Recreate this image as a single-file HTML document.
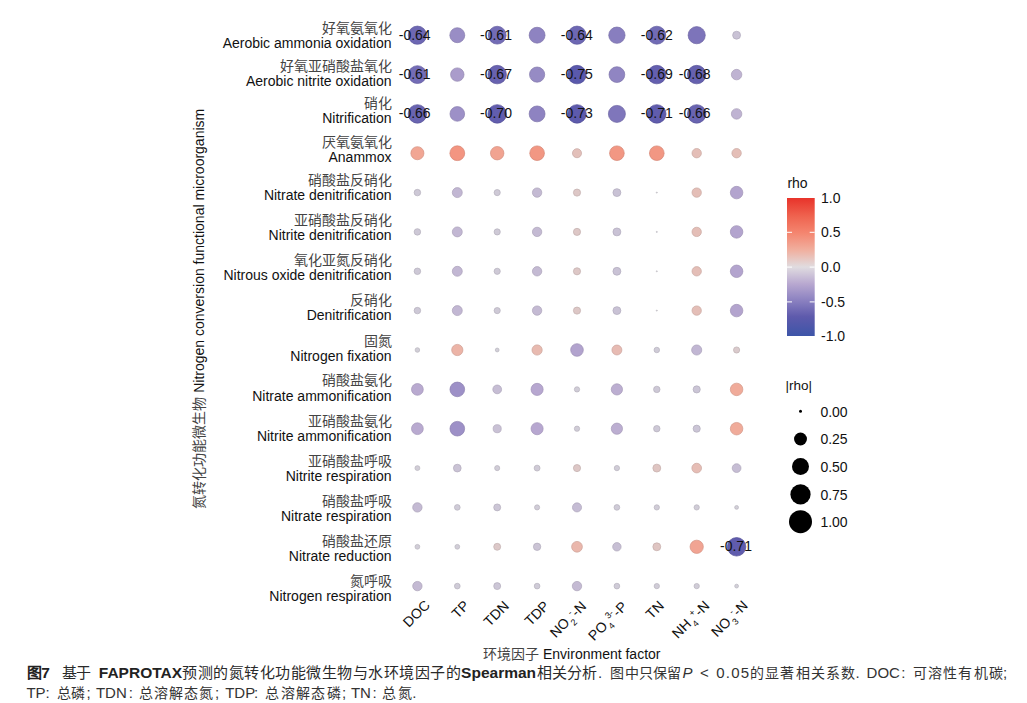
<!DOCTYPE html>
<html lang="zh-CN"><head><meta charset="utf-8">
<style>
html,body{margin:0;padding:0;background:#fff;}
body{width:1027px;height:703px;overflow:hidden;position:relative;font-family:"Liberation Sans",sans-serif;}
svg{position:absolute;left:0;top:0;}
.lab{font-family:"Liberation Sans",sans-serif;font-size:14px;text-anchor:middle;fill:#111;}
.zh{font-family:"Liberation Sans",sans-serif;font-size:14px;font-weight:300;text-anchor:end;fill:#444;}
.en{font-family:"Liberation Sans",sans-serif;font-size:14px;text-anchor:end;fill:#111;}
.xl{font-family:"Liberation Sans",sans-serif;font-size:14px;text-anchor:end;fill:#111;}
.xs{font-size:9px;}
.leg{font-family:"Liberation Sans",sans-serif;font-size:14px;fill:#111;}
.ch{font-family:"Liberation Sans",sans-serif;font-size:14px;}
.ch.hh,.ch.hb{font-size:15px;}
.cl{font-family:"Liberation Sans",sans-serif;font-size:15px;}
.b{font-weight:bold;fill:#222;font-size:15.5px;}
.hb{font-weight:bold;fill:#222;}
.hh{font-weight:normal;fill:#2a2a2a;}
.s{font-weight:300;fill:#333;}
.cl.s{font-weight:normal;fill:#333;}
.it{font-style:italic;}
</style></head><body>
<svg width="1027" height="703" viewBox="0 0 1027 703">
<defs><linearGradient id="cb" x1="0" y1="0" x2="0" y2="1"><stop offset="0.0000" stop-color="#e8332a"/><stop offset="0.1350" stop-color="#ef6450"/><stop offset="0.2550" stop-color="#f48670"/><stop offset="0.3800" stop-color="#f0b0a0"/><stop offset="0.5000" stop-color="#e0dce0"/><stop offset="0.6225" stop-color="#b8a8d0"/><stop offset="0.7450" stop-color="#8a80c0"/><stop offset="0.8600" stop-color="#5e5aac"/><stop offset="1.0000" stop-color="#3d55a8"/></linearGradient></defs>
<circle cx="417.4" cy="35.2" r="9.11" fill="#6d67b3" stroke="#5f5a9d" stroke-width="0.7"/><circle cx="457.3" cy="35.2" r="7.48" fill="#998dc5" stroke="#867cad" stroke-width="0.7"/><circle cx="497.2" cy="35.2" r="8.92" fill="#736cb6" stroke="#655fa0" stroke-width="0.7"/><circle cx="537.1" cy="35.2" r="7.94" fill="#8e83c1" stroke="#7c73a9" stroke-width="0.7"/><circle cx="577.0" cy="35.2" r="9.11" fill="#6d67b3" stroke="#5f5a9d" stroke-width="0.7"/><circle cx="616.9" cy="35.2" r="8.16" fill="#887ebf" stroke="#776ea8" stroke-width="0.7"/><circle cx="656.8" cy="35.2" r="8.98" fill="#716bb5" stroke="#635e9f" stroke-width="0.7"/><circle cx="696.7" cy="35.2" r="8.58" fill="#7d74ba" stroke="#6e66a3" stroke-width="0.7"/><circle cx="736.6" cy="35.2" r="3.96" fill="#c9c2d5" stroke="#b0aabb" stroke-width="0.7"/><circle cx="417.4" cy="74.6" r="8.92" fill="#736cb6" stroke="#655fa0" stroke-width="0.7"/><circle cx="457.3" cy="74.6" r="6.72" fill="#aa9ccb" stroke="#9589b2" stroke-width="0.7"/><circle cx="497.2" cy="74.6" r="9.25" fill="#6862b0" stroke="#5b569a" stroke-width="0.7"/><circle cx="537.1" cy="74.6" r="7.60" fill="#968bc4" stroke="#847aac" stroke-width="0.7"/><circle cx="577.0" cy="74.6" r="9.25" fill="#5a59ac" stroke="#4f4e97" stroke-width="0.7"/><circle cx="616.9" cy="74.6" r="7.87" fill="#9085c2" stroke="#7e75aa" stroke-width="0.7"/><circle cx="656.8" cy="74.6" r="9.25" fill="#645faf" stroke="#58539a" stroke-width="0.7"/><circle cx="696.7" cy="74.6" r="9.25" fill="#6661af" stroke="#59559a" stroke-width="0.7"/><circle cx="736.6" cy="74.6" r="5.25" fill="#bfb3d2" stroke="#a89db8" stroke-width="0.7"/><circle cx="417.4" cy="113.9" r="9.24" fill="#6964b1" stroke="#5c589b" stroke-width="0.7"/><circle cx="457.3" cy="113.9" r="7.32" fill="#9d90c7" stroke="#8a7eaf" stroke-width="0.7"/><circle cx="497.2" cy="113.9" r="9.25" fill="#625dae" stroke="#565199" stroke-width="0.7"/><circle cx="537.1" cy="113.9" r="7.94" fill="#8e83c1" stroke="#7c73a9" stroke-width="0.7"/><circle cx="577.0" cy="113.9" r="9.25" fill="#5d5aac" stroke="#514f97" stroke-width="0.7"/><circle cx="616.9" cy="113.9" r="8.51" fill="#7f76bb" stroke="#6f67a4" stroke-width="0.7"/><circle cx="656.8" cy="113.9" r="9.25" fill="#605cad" stroke="#545098" stroke-width="0.7"/><circle cx="696.7" cy="113.9" r="9.24" fill="#6964b1" stroke="#5c589b" stroke-width="0.7"/><circle cx="736.6" cy="113.9" r="5.25" fill="#bfb3d2" stroke="#a89db8" stroke-width="0.7"/><circle cx="417.4" cy="153.2" r="6.54" fill="#f1a694" stroke="#d49282" stroke-width="0.7"/><circle cx="457.3" cy="153.2" r="7.40" fill="#f39581" stroke="#d58371" stroke-width="0.7"/><circle cx="497.2" cy="153.2" r="6.72" fill="#f1a391" stroke="#d48f7f" stroke-width="0.7"/><circle cx="537.1" cy="153.2" r="7.32" fill="#f29783" stroke="#d48473" stroke-width="0.7"/><circle cx="577.0" cy="153.2" r="4.54" fill="#e3c0ba" stroke="#c7a8a3" stroke-width="0.7"/><circle cx="616.9" cy="153.2" r="7.32" fill="#f29783" stroke="#d48473" stroke-width="0.7"/><circle cx="656.8" cy="153.2" r="7.32" fill="#f29783" stroke="#d48473" stroke-width="0.7"/><circle cx="696.7" cy="153.2" r="4.69" fill="#e4beb7" stroke="#c8a7a1" stroke-width="0.7"/><circle cx="736.6" cy="153.2" r="4.69" fill="#e4beb7" stroke="#c8a7a1" stroke-width="0.7"/><circle cx="417.4" cy="192.6" r="3.26" fill="#cdc8d6" stroke="#b4b0bc" stroke-width="0.7"/><circle cx="457.3" cy="192.6" r="4.98" fill="#c2b7d3" stroke="#aaa1b9" stroke-width="0.7"/><circle cx="497.2" cy="192.6" r="3.10" fill="#cec9d6" stroke="#b5b0bc" stroke-width="0.7"/><circle cx="537.1" cy="192.6" r="4.69" fill="#c4bad3" stroke="#aca3b9" stroke-width="0.7"/><circle cx="577.0" cy="192.6" r="3.58" fill="#ddc7c6" stroke="#c2afae" stroke-width="0.7"/><circle cx="616.9" cy="192.6" r="3.96" fill="#c9c2d5" stroke="#b0aabb" stroke-width="0.7"/><circle cx="656.8" cy="192.6" r="0.55" fill="#d4d2d8" stroke="#bab8be" stroke-width="0.7"/><circle cx="696.7" cy="192.6" r="4.69" fill="#e4beb7" stroke="#c8a7a1" stroke-width="0.7"/><circle cx="736.6" cy="192.6" r="6.25" fill="#b3a4ce" stroke="#9d90b5" stroke-width="0.7"/><circle cx="417.4" cy="231.9" r="3.26" fill="#cdc8d6" stroke="#b4b0bc" stroke-width="0.7"/><circle cx="457.3" cy="231.9" r="4.98" fill="#c2b7d3" stroke="#aaa1b9" stroke-width="0.7"/><circle cx="497.2" cy="231.9" r="3.10" fill="#cec9d6" stroke="#b5b0bc" stroke-width="0.7"/><circle cx="537.1" cy="231.9" r="4.69" fill="#c4bad3" stroke="#aca3b9" stroke-width="0.7"/><circle cx="577.0" cy="231.9" r="3.58" fill="#ddc7c6" stroke="#c2afae" stroke-width="0.7"/><circle cx="616.9" cy="231.9" r="3.96" fill="#c9c2d5" stroke="#b0aabb" stroke-width="0.7"/><circle cx="656.8" cy="231.9" r="0.55" fill="#d4d2d8" stroke="#bab8be" stroke-width="0.7"/><circle cx="696.7" cy="231.9" r="4.69" fill="#e4beb7" stroke="#c8a7a1" stroke-width="0.7"/><circle cx="736.6" cy="231.9" r="6.25" fill="#b3a4ce" stroke="#9d90b5" stroke-width="0.7"/><circle cx="417.4" cy="271.3" r="3.26" fill="#cdc8d6" stroke="#b4b0bc" stroke-width="0.7"/><circle cx="457.3" cy="271.3" r="4.98" fill="#c2b7d3" stroke="#aaa1b9" stroke-width="0.7"/><circle cx="497.2" cy="271.3" r="3.10" fill="#cec9d6" stroke="#b5b0bc" stroke-width="0.7"/><circle cx="537.1" cy="271.3" r="4.69" fill="#c4bad3" stroke="#aca3b9" stroke-width="0.7"/><circle cx="577.0" cy="271.3" r="3.58" fill="#ddc7c6" stroke="#c2afae" stroke-width="0.7"/><circle cx="616.9" cy="271.3" r="3.96" fill="#c9c2d5" stroke="#b0aabb" stroke-width="0.7"/><circle cx="656.8" cy="271.3" r="0.55" fill="#d4d2d8" stroke="#bab8be" stroke-width="0.7"/><circle cx="696.7" cy="271.3" r="4.69" fill="#e4beb7" stroke="#c8a7a1" stroke-width="0.7"/><circle cx="736.6" cy="271.3" r="6.25" fill="#b3a4ce" stroke="#9d90b5" stroke-width="0.7"/><circle cx="417.4" cy="310.6" r="3.26" fill="#cdc8d6" stroke="#b4b0bc" stroke-width="0.7"/><circle cx="457.3" cy="310.6" r="4.98" fill="#c2b7d3" stroke="#aaa1b9" stroke-width="0.7"/><circle cx="497.2" cy="310.6" r="3.10" fill="#cec9d6" stroke="#b5b0bc" stroke-width="0.7"/><circle cx="537.1" cy="310.6" r="4.69" fill="#c4bad3" stroke="#aca3b9" stroke-width="0.7"/><circle cx="577.0" cy="310.6" r="3.58" fill="#ddc7c6" stroke="#c2afae" stroke-width="0.7"/><circle cx="616.9" cy="310.6" r="3.96" fill="#c9c2d5" stroke="#b0aabb" stroke-width="0.7"/><circle cx="656.8" cy="310.6" r="0.55" fill="#d4d2d8" stroke="#bab8be" stroke-width="0.7"/><circle cx="696.7" cy="310.6" r="4.69" fill="#e4beb7" stroke="#c8a7a1" stroke-width="0.7"/><circle cx="736.6" cy="310.6" r="6.25" fill="#b3a4ce" stroke="#9d90b5" stroke-width="0.7"/><circle cx="417.4" cy="350.0" r="2.30" fill="#d1ced7" stroke="#b7b5bd" stroke-width="0.7"/><circle cx="457.3" cy="350.0" r="5.62" fill="#ecb4a7" stroke="#cf9e92" stroke-width="0.7"/><circle cx="497.2" cy="350.0" r="1.91" fill="#d2cfd8" stroke="#b8b6be" stroke-width="0.7"/><circle cx="537.1" cy="350.0" r="5.11" fill="#e8bab0" stroke="#cca39a" stroke-width="0.7"/><circle cx="577.0" cy="350.0" r="6.30" fill="#b2a3ce" stroke="#9c8fb5" stroke-width="0.7"/><circle cx="616.9" cy="350.0" r="4.98" fill="#e7bbb3" stroke="#cba49d" stroke-width="0.7"/><circle cx="656.8" cy="350.0" r="2.76" fill="#cfcbd7" stroke="#b6b2bd" stroke-width="0.7"/><circle cx="696.7" cy="350.0" r="5.06" fill="#c1b6d3" stroke="#a9a0b9" stroke-width="0.7"/><circle cx="736.6" cy="350.0" r="3.10" fill="#dacacc" stroke="#bfb1b3" stroke-width="0.7"/><circle cx="417.4" cy="389.4" r="5.89" fill="#b9aad0" stroke="#a295b7" stroke-width="0.7"/><circle cx="457.3" cy="389.4" r="7.32" fill="#9d90c7" stroke="#8a7eaf" stroke-width="0.7"/><circle cx="497.2" cy="389.4" r="4.38" fill="#c6bdd4" stroke="#aea6ba" stroke-width="0.7"/><circle cx="537.1" cy="389.4" r="6.05" fill="#b7a7d0" stroke="#a192b7" stroke-width="0.7"/><circle cx="577.0" cy="389.4" r="2.65" fill="#d0ccd7" stroke="#b7b3bd" stroke-width="0.7"/><circle cx="616.9" cy="389.4" r="5.62" fill="#bcaed1" stroke="#a599b7" stroke-width="0.7"/><circle cx="656.8" cy="389.4" r="3.22" fill="#cdc8d6" stroke="#b4b0bc" stroke-width="0.7"/><circle cx="696.7" cy="389.4" r="3.58" fill="#cbc5d6" stroke="#b2adbc" stroke-width="0.7"/><circle cx="736.6" cy="389.4" r="6.25" fill="#f0ab9a" stroke="#d39687" stroke-width="0.7"/><circle cx="417.4" cy="428.7" r="5.89" fill="#b9aad0" stroke="#a295b7" stroke-width="0.7"/><circle cx="457.3" cy="428.7" r="7.32" fill="#9d90c7" stroke="#8a7eaf" stroke-width="0.7"/><circle cx="497.2" cy="428.7" r="4.05" fill="#c9c1d5" stroke="#b0a9bb" stroke-width="0.7"/><circle cx="537.1" cy="428.7" r="6.05" fill="#b7a7d0" stroke="#a192b7" stroke-width="0.7"/><circle cx="577.0" cy="428.7" r="2.65" fill="#d0ccd7" stroke="#b7b3bd" stroke-width="0.7"/><circle cx="616.9" cy="428.7" r="5.62" fill="#bcaed1" stroke="#a599b7" stroke-width="0.7"/><circle cx="656.8" cy="428.7" r="3.22" fill="#cdc8d6" stroke="#b4b0bc" stroke-width="0.7"/><circle cx="696.7" cy="428.7" r="3.58" fill="#cbc5d6" stroke="#b2adbc" stroke-width="0.7"/><circle cx="736.6" cy="428.7" r="6.25" fill="#f0ab9a" stroke="#d39687" stroke-width="0.7"/><circle cx="417.4" cy="468.1" r="2.47" fill="#d1cdd7" stroke="#b7b4bd" stroke-width="0.7"/><circle cx="457.3" cy="468.1" r="3.87" fill="#cac3d5" stroke="#b1abbb" stroke-width="0.7"/><circle cx="497.2" cy="468.1" r="2.56" fill="#d0ccd7" stroke="#b7b3bd" stroke-width="0.7"/><circle cx="537.1" cy="468.1" r="2.95" fill="#cfcad6" stroke="#b6b1bc" stroke-width="0.7"/><circle cx="577.0" cy="468.1" r="3.58" fill="#ddc7c6" stroke="#c2afae" stroke-width="0.7"/><circle cx="616.9" cy="468.1" r="2.65" fill="#d0ccd7" stroke="#b7b3bd" stroke-width="0.7"/><circle cx="656.8" cy="468.1" r="3.96" fill="#dfc5c2" stroke="#c4adaa" stroke-width="0.7"/><circle cx="696.7" cy="468.1" r="4.84" fill="#e6bdb5" stroke="#caa69f" stroke-width="0.7"/><circle cx="736.6" cy="468.1" r="4.38" fill="#c6bdd4" stroke="#aea6ba" stroke-width="0.7"/><circle cx="417.4" cy="507.4" r="4.69" fill="#c4bad3" stroke="#aca3b9" stroke-width="0.7"/><circle cx="457.3" cy="507.4" r="2.85" fill="#cfcbd7" stroke="#b6b2bd" stroke-width="0.7"/><circle cx="497.2" cy="507.4" r="3.48" fill="#ccc6d6" stroke="#b3aebc" stroke-width="0.7"/><circle cx="537.1" cy="507.4" r="2.56" fill="#d0ccd7" stroke="#b7b3bd" stroke-width="0.7"/><circle cx="577.0" cy="507.4" r="4.54" fill="#c5bcd4" stroke="#ada5ba" stroke-width="0.7"/><circle cx="616.9" cy="507.4" r="2.85" fill="#cfcbd7" stroke="#b6b2bd" stroke-width="0.7"/><circle cx="656.8" cy="507.4" r="2.65" fill="#d0ccd7" stroke="#b7b3bd" stroke-width="0.7"/><circle cx="696.7" cy="507.4" r="2.65" fill="#d0ccd7" stroke="#b7b3bd" stroke-width="0.7"/><circle cx="736.6" cy="507.4" r="1.91" fill="#d2cfd8" stroke="#b8b6be" stroke-width="0.7"/><circle cx="417.4" cy="546.8" r="2.40" fill="#d1cdd7" stroke="#b7b4bd" stroke-width="0.7"/><circle cx="457.3" cy="546.8" r="2.40" fill="#d1cdd7" stroke="#b7b4bd" stroke-width="0.7"/><circle cx="497.2" cy="546.8" r="3.48" fill="#dcc8c8" stroke="#c1b0b0" stroke-width="0.7"/><circle cx="537.1" cy="546.8" r="3.68" fill="#cbc4d5" stroke="#b2acbb" stroke-width="0.7"/><circle cx="577.0" cy="546.8" r="5.37" fill="#eab7ac" stroke="#cda197" stroke-width="0.7"/><circle cx="616.9" cy="546.8" r="4.22" fill="#c7bfd4" stroke="#afa8ba" stroke-width="0.7"/><circle cx="656.8" cy="546.8" r="3.96" fill="#dfc5c2" stroke="#c4adaa" stroke-width="0.7"/><circle cx="696.7" cy="546.8" r="6.63" fill="#f1a493" stroke="#d49081" stroke-width="0.7"/><circle cx="736.6" cy="546.8" r="9.25" fill="#605cad" stroke="#545098" stroke-width="0.7"/><circle cx="417.4" cy="586.1" r="4.69" fill="#c4bad3" stroke="#aca3b9" stroke-width="0.7"/><circle cx="457.3" cy="586.1" r="2.85" fill="#cfcbd7" stroke="#b6b2bd" stroke-width="0.7"/><circle cx="497.2" cy="586.1" r="3.48" fill="#ccc6d6" stroke="#b3aebc" stroke-width="0.7"/><circle cx="537.1" cy="586.1" r="2.85" fill="#cfcbd7" stroke="#b6b2bd" stroke-width="0.7"/><circle cx="577.0" cy="586.1" r="4.69" fill="#c4bad3" stroke="#aca3b9" stroke-width="0.7"/><circle cx="616.9" cy="586.1" r="2.85" fill="#cfcbd7" stroke="#b6b2bd" stroke-width="0.7"/><circle cx="656.8" cy="586.1" r="2.65" fill="#d0ccd7" stroke="#b7b3bd" stroke-width="0.7"/><circle cx="696.7" cy="586.1" r="2.65" fill="#d0ccd7" stroke="#b7b3bd" stroke-width="0.7"/><circle cx="736.6" cy="586.1" r="1.91" fill="#d2cfd8" stroke="#b8b6be" stroke-width="0.7"/>
<text x="414.7" y="39.6" class="lab">-0.64</text><text x="496.0" y="39.6" class="lab">-0.61</text><text x="576.8" y="39.6" class="lab">-0.64</text><text x="656.8" y="39.6" class="lab">-0.62</text><text x="414.7" y="79.0" class="lab">-0.61</text><text x="496.0" y="79.0" class="lab">-0.67</text><text x="576.8" y="79.0" class="lab">-0.75</text><text x="656.8" y="79.0" class="lab">-0.69</text><text x="694.7" y="79.0" class="lab">-0.68</text><text x="414.7" y="118.3" class="lab">-0.66</text><text x="496.0" y="118.3" class="lab">-0.70</text><text x="576.8" y="118.3" class="lab">-0.73</text><text x="656.8" y="118.3" class="lab">-0.71</text><text x="694.7" y="118.3" class="lab">-0.66</text><text x="736.0" y="551.1" class="lab">-0.71</text>
<text x="391.5" y="33.1" class="zh">好氧氨氧化</text><text x="391.5" y="48.3" class="en">Aerobic ammonia oxidation</text><text x="391.5" y="70.6" class="zh">好氧亚硝酸盐氧化</text><text x="391.5" y="85.8" class="en">Aerobic nitrite oxidation</text><text x="391.5" y="108.2" class="zh">硝化</text><text x="391.5" y="123.4" class="en">Nitrification</text><text x="391.5" y="146.6" class="zh">厌氧氨氧化</text><text x="391.5" y="161.8" class="en">Anammox</text><text x="391.5" y="185.2" class="zh">硝酸盐反硝化</text><text x="391.5" y="200.4" class="en">Nitrate denitrification</text><text x="391.5" y="225.1" class="zh">亚硝酸盐反硝化</text><text x="391.5" y="240.3" class="en">Nitrite denitrification</text><text x="391.5" y="264.9" class="zh">氧化亚氮反硝化</text><text x="391.5" y="280.1" class="en">Nitrous oxide denitrification</text><text x="391.5" y="304.8" class="zh">反硝化</text><text x="391.5" y="320.0" class="en">Denitrification</text><text x="391.5" y="346.0" class="zh">固氮</text><text x="391.5" y="361.2" class="en">Nitrogen fixation</text><text x="391.5" y="385.3" class="zh">硝酸盐氨化</text><text x="391.5" y="400.5" class="en">Nitrate ammonification</text><text x="391.5" y="425.7" class="zh">亚硝酸盐氨化</text><text x="391.5" y="440.9" class="en">Nitrite ammonification</text><text x="391.5" y="465.5" class="zh">亚硝酸盐呼吸</text><text x="391.5" y="480.7" class="en">Nitrite respiration</text><text x="391.5" y="505.5" class="zh">硝酸盐呼吸</text><text x="391.5" y="520.7" class="en">Nitrate respiration</text><text x="391.5" y="545.6" class="zh">硝酸盐还原</text><text x="391.5" y="560.8" class="en">Nitrate reduction</text><text x="391.5" y="585.6" class="zh">氮呼吸</text><text x="391.5" y="600.8" class="en">Nitrogen respiration</text>
<text class="xl" transform="translate(430.8,606.0) rotate(-45)">DOC</text><text class="xl" transform="translate(470.1,606.5) rotate(-45)">TP</text><text class="xl" transform="translate(509.9,606.8) rotate(-45)">TDN</text><text class="xl" transform="translate(550.2,606.8) rotate(-45)">TDP</text><g transform="translate(587.2,607.0) rotate(-45)"><text class="xl" x="0" y="0">-N</text><text class="xl xs" x="-17.77" y="-5.5" style="text-anchor:start">-</text><text class="xl xs" x="-22.77" y="4.5" style="text-anchor:start">2</text><text class="xl" x="-23.57" y="0">NO</text></g><g transform="translate(628.0,607.5) rotate(-45)"><text class="xl" x="0" y="0">-P</text><text class="xl xs" x="-22.00" y="-5.5" style="text-anchor:start">3-</text><text class="xl xs" x="-27.00" y="4.5" style="text-anchor:start">4</text><text class="xl" x="-27.80" y="0">PO</text></g><text class="xl" transform="translate(664.8,606.6) rotate(-45)">TN</text><g transform="translate(710.4,606.6) rotate(-45)"><text class="xl" x="0" y="0">-N</text><text class="xl xs" x="-20.03" y="-5.5" style="text-anchor:start">+</text><text class="xl xs" x="-25.03" y="4.5" style="text-anchor:start">4</text><text class="xl" x="-25.83" y="0">NH</text></g><g transform="translate(748.6,606.3) rotate(-45)"><text class="xl" x="0" y="0">-N</text><text class="xl xs" x="-17.77" y="-5.5" style="text-anchor:start">-</text><text class="xl xs" x="-22.77" y="4.5" style="text-anchor:start">3</text><text class="xl" x="-23.57" y="0">NO</text></g>
<text x="483" y="658.5" style="font-family:'Liberation Sans',sans-serif;font-weight:300;font-size:14px;fill:#444">环境因子</text>
<text x="543" y="658.5" style="font-family:'Liberation Sans',sans-serif;font-size:14px;fill:#111">Environment factor</text>
<g transform="translate(203.8,392.8) rotate(-90)"><text x="0" y="0" style="font-family:'Liberation Sans',sans-serif;font-size:14px;fill:#111">Nitrogen conversion functional microorganism</text></g>
<g transform="translate(203.8,509) rotate(-90)"><text x="0" y="0" style="font-family:'Liberation Sans',sans-serif;font-weight:300;font-size:14px;fill:#444">氮转化功能微生物</text></g>
<text x="787.4" y="187.7" class="leg" style="font-size:14px">rho</text>
<rect x="787" y="198" width="27.7" height="138" fill="url(#cb)"/>
<g stroke="#fff" stroke-width="1">
<path d="M787 232.3h5M809.7 232.3h5M787 267.1h5M809.7 267.1h5M787 301.9h5M809.7 301.9h5"/>
</g>
<text x="821" y="203" class="leg">1.0</text>
<text x="821" y="237.3" class="leg">0.5</text>
<text x="821" y="272" class="leg">0.0</text>
<text x="821" y="306.8" class="leg">-0.5</text>
<text x="821" y="341.3" class="leg">-1.0</text>
<text x="785.6" y="390" class="leg" style="font-size:13.5px">|rho|</text>
<circle cx="800.5" cy="411.3" r="1.5" fill="#000"/>
<circle cx="800.5" cy="439" r="6.45" fill="#000"/>
<circle cx="800.5" cy="466.6" r="8.5" fill="#000"/>
<circle cx="800.5" cy="494.4" r="10.1" fill="#000"/>
<circle cx="800.5" cy="521.7" r="11.5" fill="#000"/>
<text x="820.4" y="416.5" class="leg">0.00</text>
<text x="820.4" y="444.2" class="leg">0.25</text>
<text x="820.4" y="471.8" class="leg">0.50</text>
<text x="820.4" y="499.6" class="leg">0.75</text>
<text x="820.4" y="526.9" class="leg">1.00</text>
</svg>
<svg width="1027" height="703"><text x="27" y="677.9" class="ch hb">图</text><text x="41.2" y="677.9" class="cl b">7</text><text x="61.7" y="677.9" class="ch hh" style="letter-spacing:-0.70px">基于</text><text x="98.8" y="677.9" class="cl b">FAPROTAX</text><text x="182.2" y="677.9" class="ch hh" style="letter-spacing:0.51px">预测的氮转化功能微生物与水环境因子的</text><text x="461.1" y="677.9" class="cl b">Spearman</text><text x="537.2" y="677.9" class="ch hh" style="letter-spacing:0.07px">相关分析</text><text x="597.9" y="677.9" class="cl s">.</text><text x="610.4" y="677.9" class="ch s" style="letter-spacing:0.18px">图中只保留</text><text x="682.5" y="677.9" class="cl s it">P</text><text x="700" y="677.9" class="cl s">&lt;</text><text x="716.3" y="677.9" class="cl s" style="letter-spacing:1.20px">0.05</text><text x="750.2" y="677.9" class="ch s" style="letter-spacing:1.15px">的显著相关系数</text><text x="855.6" y="677.9" class="cl s">.</text><text x="866.6" y="677.9" class="cl s">DOC</text><text x="901.2" y="677.9" class="cl s">:</text><text x="912.5" y="677.9" class="ch s" style="letter-spacing:1.32px">可溶性有机碳</text><text x="1003" y="677.9" class="cl s">;</text><text x="26.4" y="697.6" class="cl s">TP</text><text x="45.6" y="697.6" class="cl s">:</text><text x="56.5" y="697.6" class="ch s" style="letter-spacing:0.30px">总磷</text><text x="86.5" y="697.6" class="cl s">;</text><text x="95.9" y="697.6" class="cl s">TDN</text><text x="128.7" y="697.6" class="cl s">:</text><text x="138.6" y="697.6" class="ch s" style="letter-spacing:1.05px">总溶解态氮</text><text x="214.9" y="697.6" class="cl s">;</text><text x="225.2" y="697.6" class="cl s">TDP</text><text x="254.1" y="697.6" class="cl s">:</text><text x="265.1" y="697.6" class="ch s" style="letter-spacing:1.42px">总溶解态磷</text><text x="342.1" y="697.6" class="cl s">;</text><text x="350.9" y="697.6" class="cl s">TN</text><text x="372.5" y="697.6" class="cl s">:</text><text x="381.9" y="697.6" class="ch s" style="letter-spacing:2.10px">总氮</text><text x="412.2" y="697.6" class="cl s">.</text></svg>
</body></html>
